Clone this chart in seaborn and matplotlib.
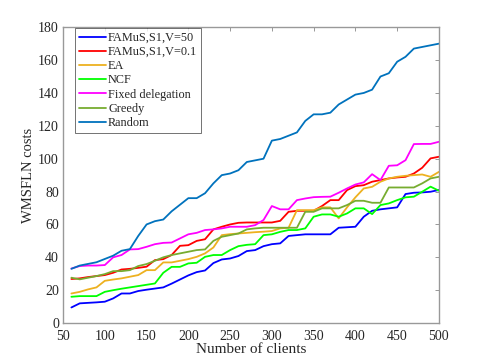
import numpy as np
import pandas as pd
import matplotlib
matplotlib.use("Agg")
import matplotlib.pyplot as plt
import seaborn as sns

# data
clients = list(range(60, 501, 10))

famus_v50 = [9.5, 12, 12.3, 12.6, 13, 15, 18, 18, 19.5, 20.3, 21, 21.7, 24, 26.5, 29,
             31, 32, 36.5, 38.7, 39.3, 40.8, 43.8, 44.4, 46.8, 48, 48.5, 53, 53.5, 54, 54,
             54, 54, 58, 58.3, 58.6, 64.7, 68.3, 69.2, 69.8, 70.4, 78.5, 79.3, 79.5, 79.9, 81]
famus_v01 = [26.8, 27.2, 28, 28.6, 29.2, 30.6, 32.6, 33, 33.6, 34.3, 38.3, 38.9, 41.4, 47, 47.4,
             50, 51, 57, 58.6, 60, 61, 61.2, 61.2, 61.2, 61.2, 62.2, 67.7, 68.3, 68.3, 68.3,
             71.2, 74.8, 74.8, 80.9, 83.3, 83.9, 86, 87, 88, 88.6, 89, 91, 94.5, 100.2, 101.2]
ea = [18, 19, 20.5, 21.7, 25.7, 26.5, 27.2, 28.2, 29.2, 32.2, 32.2, 36.9, 36.9, 37.9, 38.9,
      40.3, 42.4, 46, 53.5, 54.1, 54.5, 54.9, 55.3, 55.6, 56, 57.6, 58, 68.7, 68.7, 68.7,
      70.4, 70.4, 63.7, 70.4, 76.5, 81.9, 82.9, 86, 88, 89, 89.6, 90, 90.4, 89, 92]
ncf = [16, 16.4, 16.4, 16.4, 19, 20, 20.9, 21.7, 22.5, 23.3, 24.1, 30.6, 34.2, 34.2, 36.3,
       36.7, 40.3, 41.4, 41.4, 44.4, 46.8, 47.6, 48, 53.5, 54, 55.5, 56.6, 56.6, 57.6, 64.7,
       66.1, 66.1, 64.7, 66.7, 69.8, 69.8, 66.3, 71.8, 72.8, 74.8, 76.5, 76.9, 79.9, 83, 80.5]
fixed = [33.2, 34.7, 35, 35, 35.3, 40, 41.4, 44.8, 45, 46.4, 48, 48.8, 49, 51.5, 54,
         54.9, 56.6, 57, 57.6, 58.6, 58.6, 58.6, 59.6, 62.7, 71.2, 69.2, 69.2, 74.8, 75.8, 76.6,
         76.8, 76.9, 79.3, 81.9, 84.3, 85.6, 90.6, 87, 95.7, 96, 99.1, 108.9, 109, 109, 110.3]
greedy = [27.6, 26.6, 27.6, 28.6, 29.8, 31.6, 31.6, 32.2, 34.7, 35.9, 37.9, 40, 41.4, 42.4, 43.4,
          44.4, 44.8, 50, 52.5, 53.5, 54.5, 57, 57.6, 58, 58, 58, 58, 58, 67.7, 67.7,
          69.8, 69.8, 69.8, 71.8, 74.4, 74.4, 73.2, 73.2, 82.5, 82.5, 82.5, 82.5, 85, 88, 89]
random_ = [33, 35, 36, 37, 39, 41, 44, 45, 53, 60, 62, 63, 68, 72, 76,
           76, 79, 85, 90, 91, 93, 98, 99, 100, 111, 112, 114, 116, 123, 127,
           127, 128, 133, 136, 139, 140, 142, 150, 152, 159, 162, 167, 168, 169, 170]

names = ["FAMuS,S1,V=50", "FAMuS,S1,V=0.1", "EA", "NCF",
         "Fixed delegation", "Greedy", "Random"]
series = [famus_v50, famus_v01, ea, ncf, fixed, greedy, random_]
colors = ["#0000ff", "#ff0000", "#edb120", "#00ff00", "#ff00ff", "#77ac30", "#0072bd"]

df = pd.DataFrame({
    "clients": clients * len(names),
    "cost": np.concatenate(series),
    "method": np.repeat(names, len(clients)),
})

sns.set_style("white")
plt.rcParams["font.family"] = ["Liberation Serif", "DejaVu Serif"]

fig = plt.figure(figsize=(4.85, 3.63), dpi=100)
ax = fig.add_axes([0.13, 0.11, 0.775, 0.815])

sns.lineplot(data=df, x="clients", y="cost", hue="method", hue_order=names,
             palette=dict(zip(names, colors)), linewidth=1.3, ax=ax)

ax.set_xlim(50, 500)
ax.set_ylim(0, 180)
ax.set_xticks(range(50, 501, 50))
ax.set_yticks(range(0, 181, 20))
ax.tick_params(direction="in", top=True, right=True, length=3, width=0.6,
               color="#888888", labelsize=10, colors="#262626")
ax.tick_params(axis="x", pad=5)
ax.tick_params(axis="y", pad=3)
for s in ax.spines.values():
    s.set_color("#999999")
    s.set_linewidth(1.0)
ax.set_xlabel("Number of clients", fontsize=11, color="#262626", labelpad=0)
ax.set_ylabel("WMSFLN costs", fontsize=10.5, color="#262626", labelpad=2)

leg = ax.legend(loc="upper left", bbox_to_anchor=(0.032, 0.997), fontsize=8.8,
                frameon=True, fancybox=False, handlelength=2.2, handletextpad=0.2,
                borderpad=0.3, labelspacing=0.18, borderaxespad=0)
leg.get_frame().set_edgecolor("#333333")
leg.get_frame().set_linewidth(0.6)

fig.savefig("out.png", dpi=100)
